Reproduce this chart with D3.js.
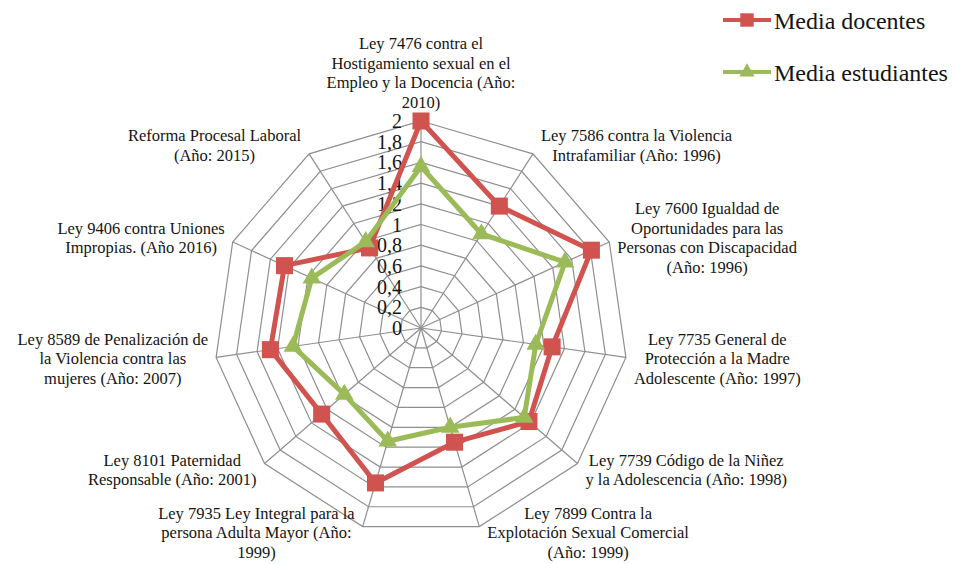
<!DOCTYPE html>
<html>
<head>
<meta charset="utf-8">
<script src="https://cdn.jsdelivr.net/npm/d3@7"></script>
<style>
  body { margin: 0; background: #fff; }
  text { font-family: "Liberation Serif", "DejaVu Serif", serif; fill: #141414; }
</style>
</head>
<body>
<svg id="chart" width="954" height="564"></svg>
<script>
// categories, clockwise from the top (line breaks as in the original)
const categories = [
  ["Ley 7476 contra el", "Hostigamiento sexual en el", "Empleo y la Docencia (Año:", "2010)"],
  ["Ley 7586 contra la Violencia", "Intrafamiliar (Año: 1996)"],
  ["Ley 7600 Igualdad de", "Oportunidades para las", "Personas con Discapacidad", "(Año: 1996)"],
  ["Ley 7735 General de", "Protección a la Madre", "Adolescente (Año: 1997)"],
  ["Ley 7739 Código de la Niñez", "y la Adolescencia (Año: 1998)"],
  ["Ley 7899 Contra la", "Explotación Sexual Comercial", "(Año: 1999)"],
  ["Ley 7935 Ley Integral para la", "persona Adulta Mayor (Año:", "1999)"],
  ["Ley 8101 Paternidad", "Responsable (Año: 2001)"],
  ["Ley 8589 de Penalización de", "la Violencia contra las", "mujeres (Año: 2007)"],
  ["Ley 9406 contra Uniones", "Impropias. (Año 2016)"],
  ["Reforma Procesal Laboral", "(Año: 2015)"]
];
const docentes    = [2.00, 1.40, 1.81, 1.28, 1.38, 1.15, 1.56, 1.27, 1.47, 1.45, 0.92];
const estudiantes = [1.56, 1.08, 1.53, 1.12, 1.32, 1.00, 1.14, 0.98, 1.25, 1.16, 0.99];
const ticks = [0, 0.2, 0.4, 0.6, 0.8, 1, 1.2, 1.4, 1.6, 1.8, 2];
const seriesNames = ["Media docentes", "Media estudiantes"];

const W = 954, H = 564;
const cx = 421, cy = 328, R = 207;
const red = "#d0534f", green = "#9bbb59", gridColor = "#8f8f8f";

const svg = d3.select("#chart");
const n = categories.length;
const r = d3.scaleLinear().domain([0, 2]).range([0, R]);
const ang = d3.scaleLinear().domain([0, n]).range([0, 2 * Math.PI]);
const pt = (i, v) => [cx + Math.sin(ang(i)) * r(v), cy - Math.cos(ang(i)) * r(v)];

const g = svg.append("g");

// grid polygons
g.selectAll(".ring").data(ticks.slice(1))
  .join("path").attr("class", "ring")
  .attr("d", t => d3.line()(d3.range(n).map(i => pt(i, t))) + "Z")
  .attr("fill", "none").attr("stroke", gridColor).attr("stroke-width", 1.2);

// spokes
g.selectAll(".spoke").data(d3.range(n))
  .join("line").attr("class", "spoke")
  .attr("x1", cx).attr("y1", cy)
  .attr("x2", i => pt(i, 2)[0]).attr("y2", i => pt(i, 2)[1])
  .attr("stroke", gridColor).attr("stroke-width", 1.2);

// tick labels
g.selectAll(".tick").data(ticks)
  .join("text").attr("class", "tick")
  .attr("x", cx - 19).attr("y", t => cy - r(t))
  .attr("text-anchor", "end").attr("dominant-baseline", "central")
  .attr("font-size", 20)
  .text(t => d3.format(".1~f")(t).replace(".", ","));

// category labels
const lineH = 19.5, gap = 8;
const labels = g.selectAll(".cat").data(categories)
  .join("text").attr("class", "cat")
  .attr("font-size", 16.5).attr("text-anchor", "middle");
labels.selectAll("tspan").data(d => d)
  .join("tspan").text(d => d);

labels.each(function(lines, i) {
  const el = d3.select(this);
  const w = d3.max(el.selectAll("tspan").nodes(), s => s.getComputedTextLength());
  const h = lines.length * lineH;
  const a = ang(i), s = Math.sin(a), c = Math.cos(a);
  const [ex, ey] = pt(i, 2);
  let bx, top;
  if (Math.abs(s) < 0.1) bx = ex;
  else if (s > 0) bx = ex + gap + w / 2;
  else bx = ex - gap - w / 2;
  if (c > 0.9) top = ey - 9 - h;
  else if (c < -0.9) top = ey + 9;
  else top = ey - c * 10 - h / 2;
  top = Math.max(2, Math.min(H - h - 2, top));
  el.selectAll("tspan")
    .attr("x", bx)
    .attr("y", (d, k) => top + lineH * (k + 0.5))
    .attr("dominant-baseline", "central");
});

// series
const series = [
  { name: seriesNames[0], values: docentes, color: red, symbol: d3.symbolSquare, size: 290 },
  { name: seriesNames[1], values: estudiantes, color: green, symbol: d3.symbolTriangle, size: 150 }
];

const sg = g.selectAll(".series").data(series)
  .join("g").attr("class", "series");
sg.append("path")
  .attr("d", d => d3.line()(d.values.map((v, i) => pt(i, v))) + "Z")
  .attr("fill", "none").attr("stroke", d => d.color)
  .attr("stroke-width", 5).attr("stroke-linejoin", "round");
sg.selectAll(".mark").data(d => d.values.map((v, i) => ({ v, i, s: d })))
  .join("path").attr("class", "mark")
  .attr("transform", d => `translate(${pt(d.i, d.v)})`)
  .attr("d", d => d3.symbol(d.s.symbol, d.s.size)())
  .attr("fill", d => d.s.color);

// legend
const lg = svg.append("g").selectAll(".leg").data(series)
  .join("g").attr("class", "leg")
  .attr("transform", (d, i) => `translate(723, ${20 + i * 52})`);
lg.append("line").attr("x1", 0).attr("x2", 48)
  .attr("stroke", d => d.color).attr("stroke-width", 4);
lg.append("path").attr("transform", "translate(24,0)")
  .attr("d", d => d3.symbol(d.symbol, d.symbol === d3.symbolSquare ? 180 : 100)())
  .attr("fill", d => d.color);
lg.append("text").attr("x", 51).attr("y", 1)
  .attr("dominant-baseline", "central").attr("font-size", 24)
  .text(d => d.name);
</script>
</body>
</html>
